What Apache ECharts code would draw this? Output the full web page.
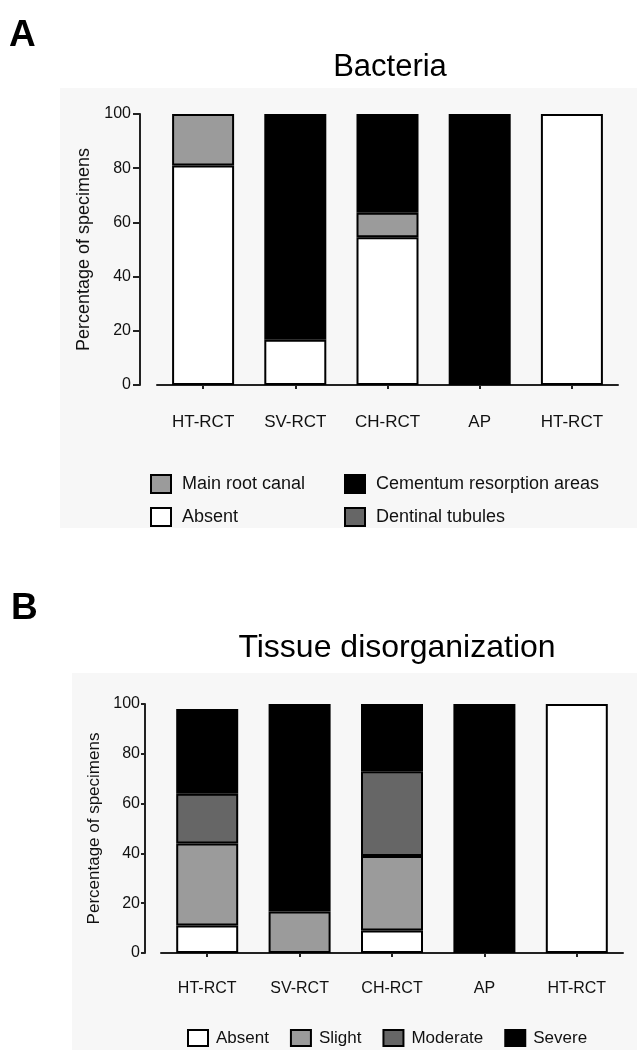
<!DOCTYPE html>
<html>
<head>
<meta charset="utf-8">
<script src="https://cdn.jsdelivr.net/npm/echarts@6/dist/echarts.min.js"></script>
<style>
  html, body { margin: 0; padding: 0; background: #ffffff; }
  #chart { width: 637px; height: 1050px; }
</style>
</head>
<body>
<div id="chart"></div>
<script>
// ---- Data ----
const categories = ['HT-RCT', 'SV-RCT', 'CH-RCT', 'AP', 'HT-RCT'];
const yTicks = [0, 20, 40, 60, 80, 100];

// Panel A: Bacteria (% of specimens)
const bactAbsent    = [81, 16.7, 54.5, 0, 100];
const bactMainCanal = [19, 0, 9.1, 0, 0];
const bactDentinal  = [0, 0, 0, 0, 0];
const bactCementum  = [0, 83.3, 36.4, 100, 0];

// Panel B: Tissue disorganization (% of specimens)
const tisAbsent   = [11, 0, 9, 0, 100];
const tisSlight   = [33, 16.7, 30, 0, 0];
const tisModerate = [20, 0, 34, 0, 0];
const tisSevere   = [34, 83.3, 27, 100, 0];

// ---- Styling ----
const FONT = '"Liberation Sans", Arial, Helvetica, sans-serif';
const C_WHITE = '#ffffff', C_LIGHT = '#9b9b9b', C_DARK = '#666666', C_BLACK = '#000000';

function barSeries(name, data, color, idx) {
  return {
    name: name, type: 'bar', stack: 'p' + idx,
    xAxisIndex: idx, yAxisIndex: idx,
    // zero-height segments are not drawn
    data: data.map(v => (v === 0 ? '-' : v)), barWidth: 62,
    itemStyle: { color: color, borderColor: '#000', borderWidth: 2 },
    emphasis: { disabled: true },
    animation: false
  };
}

function yAxisCfg(idx, gap, nameSize, labelSize, tickLen, margin) {
  return {
    type: 'value', gridIndex: idx, min: 0, max: 100, interval: 20,
    offset: idx === 0 ? 17 : 16,
    name: 'Percentage of specimens', nameLocation: 'middle', nameGap: gap,
    nameTextStyle: { fontFamily: FONT, fontSize: nameSize, color: '#111' },
    axisLine: { show: true, lineStyle: { color: '#222', width: 2 } },
    axisTick: { show: true, length: tickLen, lineStyle: { color: '#222', width: 2 } },
    axisLabel: { fontFamily: FONT, fontSize: labelSize, color: '#111', margin: margin,
      formatter: v => yTicks.indexOf(v) >= 0 ? String(v) : '' },
    splitLine: { show: false }
  };
}

function xAxisCfg(idx, labelSize, margin) {
  return {
    type: 'category', gridIndex: idx, data: categories,
    offset: idx === 0 ? 18 : 16,
    axisLine: { show: true, lineStyle: { color: '#222', width: 2 } },
    axisTick: { show: true, alignWithLabel: true, length: 4, lineStyle: { color: '#222', width: 2 } },
    axisLabel: { fontFamily: FONT, fontSize: labelSize, color: '#111', margin: margin, interval: 0 }
  };
}

const legendText = (size, pad) => ({ fontFamily: FONT, fontSize: size, color: '#111', padding: [0, 0, 0, pad] });
const legendItem = { borderColor: '#000', borderWidth: 2 };

const option = {
  backgroundColor: '#ffffff',
  animation: false,
  graphic: [
    { type: 'rect', z: -10, silent: true, shape: { x: 60, y: 88, width: 577, height: 440 }, style: { fill: '#f7f7f7' } },
    { type: 'rect', z: -10, silent: true, shape: { x: 72, y: 673, width: 565, height: 377 }, style: { fill: '#f7f7f7' } }
  ],
  title: [
    { text: 'A', left: 4, top: 12, textStyle: { fontFamily: FONT, fontSize: 37, fontWeight: 'bold', color: '#000' } },
    { text: 'Bacteria', left: 385, top: 47, textAlign: 'center', textStyle: { fontFamily: FONT, fontSize: 31, fontWeight: 'normal', color: '#000' } },
    { text: 'B', left: 6, top: 585, textStyle: { fontFamily: FONT, fontSize: 37, fontWeight: 'bold', color: '#000' } },
    { text: 'Tissue disorganization', left: 392, top: 627, textAlign: 'center', textStyle: { fontFamily: FONT, fontSize: 32, fontWeight: 'normal', color: '#000' } }
  ],
  legend: [
    { data: ['Main root canal', 'Absent'], orient: 'vertical', left: 145, top: 469, itemGap: 13,
      itemWidth: 20, itemHeight: 18, icon: 'rect', selectedMode: false,
      itemStyle: legendItem, textStyle: legendText(18, 6) },
    { data: ['Cementum resorption areas', 'Dentinal tubules'], orient: 'vertical', left: 339, top: 469, itemGap: 13,
      itemWidth: 20, itemHeight: 18, icon: 'rect', selectedMode: false,
      itemStyle: legendItem, textStyle: legendText(18, 6) },
    { data: ['Absent', 'Slight', 'Moderate', 'Severe'], orient: 'horizontal', left: 182, top: 1024, itemGap: 21,
      itemWidth: 20, itemHeight: 16, icon: 'rect', selectedMode: false,
      itemStyle: legendItem, textStyle: legendText(17, 3) }
  ],
  grid: [
    { left: 157, right: 19, top: 114, height: 271 },
    { left: 161, right: 14, top: 704, height: 249 }
  ],
  xAxis: [ xAxisCfg(0, 17, 11), xAxisCfg(1, 16, 12) ],
  yAxis: [ yAxisCfg(0, 47, 18, 16, 7, 9), yAxisCfg(1, 40, 17, 16, 4, 5) ],
  series: [
    barSeries('Absent', bactAbsent, C_WHITE, 0),
    barSeries('Main root canal', bactMainCanal, C_LIGHT, 0),
    barSeries('Dentinal tubules', bactDentinal, C_DARK, 0),
    barSeries('Cementum resorption areas', bactCementum, C_BLACK, 0),
    barSeries('Absent', tisAbsent, C_WHITE, 1),
    barSeries('Slight', tisSlight, C_LIGHT, 1),
    barSeries('Moderate', tisModerate, C_DARK, 1),
    barSeries('Severe', tisSevere, C_BLACK, 1)
  ]
};

const chart = echarts.init(document.getElementById('chart'), null, { renderer: 'canvas' });
chart.setOption(option);
</script>
</body>
</html>
